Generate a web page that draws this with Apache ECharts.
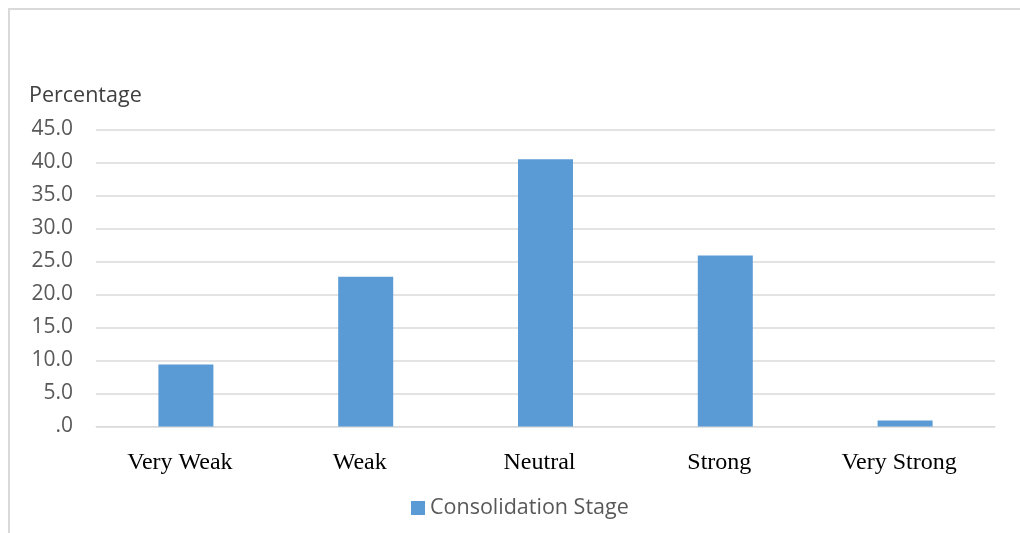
<!DOCTYPE html>
<html>
<head>
<meta charset="utf-8">
<script src="https://cdn.jsdelivr.net/npm/echarts@6/dist/echarts.min.js"></script>
<style>
  html, body { margin: 0; padding: 0; background: #ffffff; }
  #chart { width: 1020px; height: 533px; }
</style>
</head>
<body>
<div id="chart"></div>
<script>
// Response categories on the horizontal axis
const categories = ['Very Weak', 'Weak', 'Neutral', 'Strong', 'Very Strong'];
// Share of respondents (%) per category
const consolidationStage = [9.4, 22.7, 40.5, 25.9, 0.9];
const seriesName = 'Consolidation Stage';
const axisTitle = 'Percentage';

const chart = echarts.init(document.getElementById('chart'), null, { renderer: 'canvas' });

chart.setOption({
  animation: false,
  backgroundColor: '#ffffff',
  textStyle: { fontFamily: 'Open Sans' },
  graphic: [
    // thin frame along the top and left edges
    { type: 'line', shape: { x1: 8, y1: 9, x2: 1020, y2: 9 }, style: { stroke: '#d9d9d9', lineWidth: 2 } },
    { type: 'line', shape: { x1: 9, y1: 8, x2: 9, y2: 533 }, style: { stroke: '#d9d9d9', lineWidth: 2 } },
    {
      type: 'text', left: 29, top: 85,
      style: { text: axisTitle, font: '21.5px "Open Sans"', fill: '#404040' }
    }
  ],
  grid: { left: 96, right: 25, top: 129.5, bottom: 106.5, containLabel: false },
  legend: {
    data: [seriesName],
    top: 492,
    left: 406,
    icon: 'rect',
    itemWidth: 14,
    itemHeight: 14,
    itemGap: 8,
    textStyle: { color: '#595959', fontSize: 21.5, fontFamily: 'Open Sans' }
  },
  xAxis: {
    type: 'category',
    data: categories,
    axisLine: { lineStyle: { color: '#d9d9d9', width: 1 } },
    axisTick: { show: false },
    axisLabel: {
      color: '#000000',
      fontSize: 24,
      fontFamily: 'Liberation Serif',
      margin: 24,
      padding: [0, 12, 0, 0]
    }
  },
  yAxis: {
    type: 'value',
    min: 0,
    max: 45,
    interval: 5,
    axisLine: { show: false },
    axisTick: { show: false },
    splitLine: { lineStyle: { color: '#e3e3e3', width: 2 } },
    axisLabel: {
      color: '#595959',
      fontSize: 21,
      fontFamily: 'Open Sans',
      margin: 23,
      formatter: function (v) {
        return v === 0 ? '.0' : v.toFixed(1);
      }
    }
  },
  series: [{
    name: seriesName,
    type: 'bar',
    data: consolidationStage,
    barWidth: 55,
    itemStyle: { color: '#5b9bd5' }
  }]
});
</script>
</body>
</html>
